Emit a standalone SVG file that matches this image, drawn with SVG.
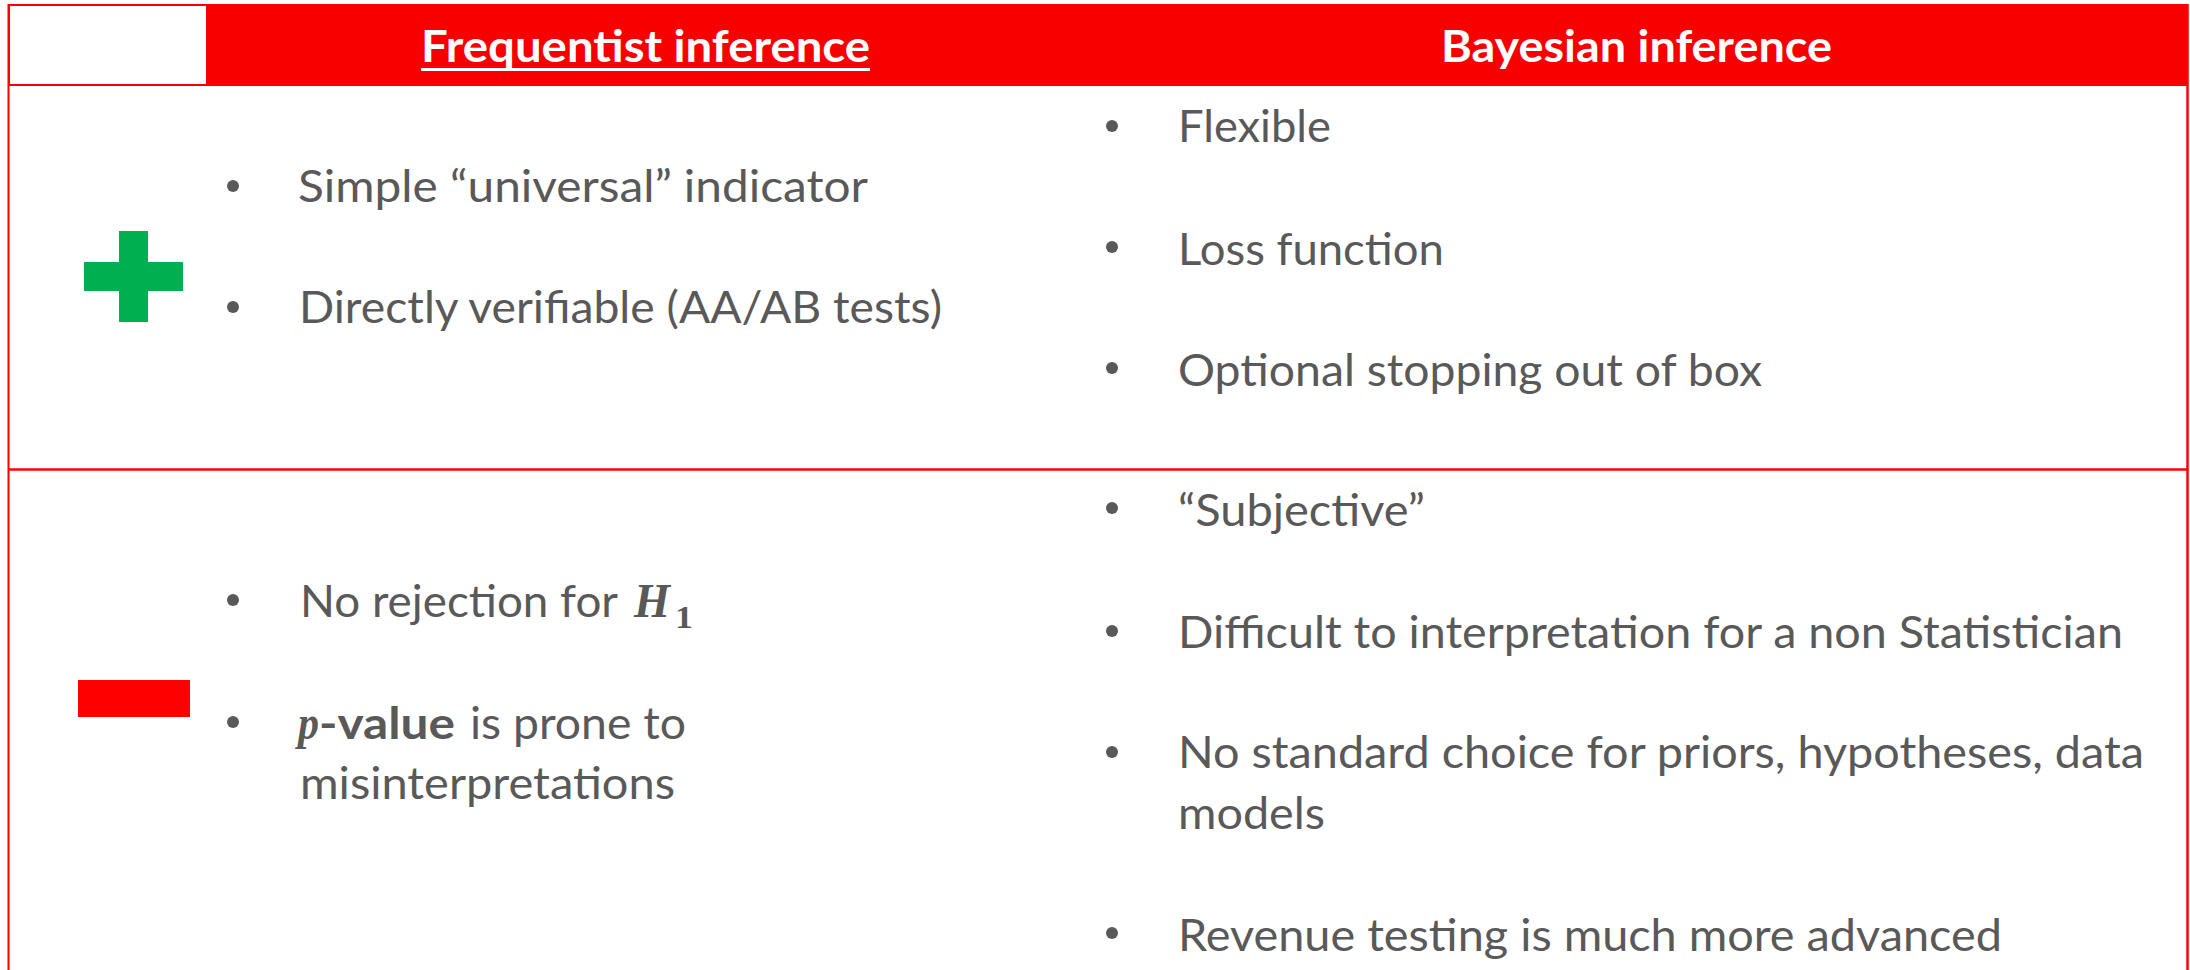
<svg xmlns="http://www.w3.org/2000/svg" width="2190" height="970" viewBox="0 0 2190 970">
  <style>
    .hdr { font-family: Lato, "Open Sans", "Liberation Sans", sans-serif; font-weight: bold; font-size: 43px; fill: #ffffff; }
    .body { font-family: Lato, "Open Sans", "Liberation Sans", sans-serif; font-size: 44px; fill: #595959; }
    .bold { font-weight: bold; }
    .math { font-family: "Liberation Serif", "DejaVu Serif", serif; font-weight: bold; font-style: italic; font-size: 48px; fill: #595959; }
    .sub { font-family: "Liberation Serif", "DejaVu Serif", serif; font-weight: bold; font-size: 32px; fill: #595959; }
    .dot { fill: #595959; }
    .rule { stroke: #ff0000; fill: none; }
  </style>

  <rect width="2190" height="970" fill="#ffffff"/>

  <!-- header band -->
  <g id="header">
    <rect x="8" y="4" width="2180" height="82" fill="#f80000"/>
    <rect x="10" y="6" width="196" height="78" fill="#ffffff"/>
    <g id="head-frequentist">
      <text class="hdr" x="421" y="62" textLength="449" lengthAdjust="spacingAndGlyphs">Frequentist inference</text>
      <rect x="421" y="68" width="449" height="3" fill="#ffffff"/>
    </g>
    <g id="head-bayesian">
      <text class="hdr" x="1441" y="62" textLength="391" lengthAdjust="spacingAndGlyphs">Bayesian inference</text>
    </g>
  </g>

  <!-- table rules -->
  <g id="grid">
    <line class="rule" x1="8.5" y1="4" x2="8.5" y2="970" stroke-width="2"/>
    <line class="rule" x1="2187.5" y1="4" x2="2187.5" y2="970" stroke-width="2.5"/>
    <line class="rule" x1="8" y1="4.5" x2="2188" y2="4.5" stroke-width="1" stroke-opacity="0.5"/>
    <line class="rule" x1="8" y1="469.5" x2="2188" y2="469.5" stroke-width="2.5"/>
  </g>

  <!-- advantages row -->
  <g id="pros">
    <g id="plus-sign" fill="#00b050">
      <rect x="119" y="231" width="29" height="91"/>
      <rect x="84" y="262" width="99" height="29"/>
    </g>
    <g id="pros-frequentist">
      <circle class="dot" cx="233" cy="186" r="6"/>
      <text class="body" x="298" y="202" textLength="570" lengthAdjust="spacingAndGlyphs">Simple “universal” indicator</text>
      <circle class="dot" cx="233" cy="307" r="6"/>
      <text class="body" x="299" y="323" textLength="643" lengthAdjust="spacingAndGlyphs">Directly verifiable (AA/AB tests)</text>
    </g>
    <g id="pros-bayesian">
      <circle class="dot" cx="1112" cy="126" r="6"/>
      <text class="body" x="1178" y="142" textLength="153" lengthAdjust="spacingAndGlyphs">Flexible</text>
      <circle class="dot" cx="1112" cy="247" r="6"/>
      <text class="body" x="1178" y="265" textLength="266" lengthAdjust="spacingAndGlyphs">Loss function</text>
      <circle class="dot" cx="1112" cy="368" r="6"/>
      <text class="body" x="1178" y="386" textLength="584" lengthAdjust="spacingAndGlyphs">Optional stopping out of box</text>
    </g>
  </g>

  <!-- drawbacks row -->
  <g id="cons">
    <rect id="minus-sign" x="78" y="680" width="112" height="37" fill="#ff0000"/>
    <g id="cons-frequentist">
      <circle class="dot" cx="233" cy="600" r="6"/>
      <text class="body" x="300" y="617" textLength="318" lengthAdjust="spacingAndGlyphs">No rejection for</text>
      <text class="math" x="634" y="617" textLength="36" lengthAdjust="spacingAndGlyphs">H</text>
      <text class="sub" x="675" y="628" textLength="18" lengthAdjust="spacingAndGlyphs">1</text>
      <circle class="dot" cx="233" cy="722" r="6"/>
      <text class="math" x="298" y="739" textLength="21" lengthAdjust="spacingAndGlyphs">p</text>
      <text class="body bold" x="319" y="739" textLength="136" lengthAdjust="spacingAndGlyphs">-value</text>
      <text class="body" x="470" y="739" textLength="216" lengthAdjust="spacingAndGlyphs">is prone to</text>
      <text class="body" x="300" y="799" textLength="375" lengthAdjust="spacingAndGlyphs">misinterpretations</text>
    </g>
    <g id="cons-bayesian">
      <circle class="dot" cx="1112" cy="508" r="6"/>
      <text class="body" x="1178" y="526" textLength="247" lengthAdjust="spacingAndGlyphs">“Subjective”</text>
      <circle class="dot" cx="1112" cy="631" r="6"/>
      <text class="body" x="1178" y="648" textLength="945" lengthAdjust="spacingAndGlyphs">Difficult to interpretation for a non Statistician</text>
      <circle class="dot" cx="1112" cy="752" r="6"/>
      <text class="body" x="1178" y="768" textLength="966" lengthAdjust="spacingAndGlyphs">No standard choice for priors, hypotheses, data</text>
      <text class="body" x="1178" y="829" textLength="147" lengthAdjust="spacingAndGlyphs">models</text>
      <circle class="dot" cx="1112" cy="933" r="6"/>
      <text class="body" x="1178" y="951" textLength="824" lengthAdjust="spacingAndGlyphs">Revenue testing is much more advanced</text>
    </g>
  </g>
</svg>
